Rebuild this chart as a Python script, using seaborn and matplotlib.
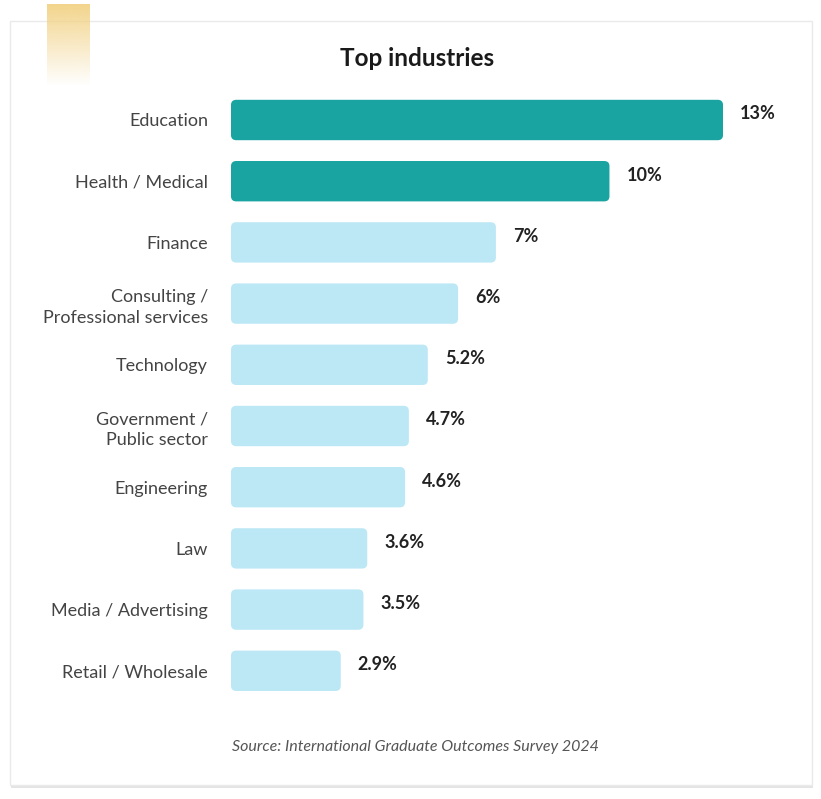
import matplotlib
matplotlib.use("Agg")
import matplotlib.pyplot as plt
import seaborn as sns
import pandas as pd
import numpy as np
from matplotlib.patches import FancyBboxPatch, Rectangle

industries = ["Education", "Health / Medical", "Finance", "Consulting /\nProfessional services",
              "Technology", "Government /\nPublic sector", "Engineering", "Law",
              "Media / Advertising", "Retail / Wholesale"]
shares = [13, 10, 7, 6, 5.2, 4.7, 4.6, 3.6, 3.5, 2.9]
value_labels = ["13%", "10%", "7%", "6%", "5.2%", "4.7%", "4.6%", "3.6%", "3.5%", "2.9%"]
highlight = [True, True, False, False, False, False, False, False, False, False]

TEAL = "#19A3A1"
LIGHT = "#BCE8F6"

sns.set_theme(style="white")
plt.rcParams["font.family"] = ["Lato", "DejaVu Sans"]

df = pd.DataFrame({"industry": industries, "share": shares})
colors = [TEAL if h else LIGHT for h in highlight]

W, H = 821, 799
fig = plt.figure(figsize=(W / 100, H / 100), dpi=100)
fig.patch.set_facecolor("white")

# card background with soft shadow
fig.patches.append(Rectangle((11 / W, 1 - 788 / H), 802 / W, 766 / H, transform=fig.transFigure,
                             facecolor="#E4E4E4", edgecolor="none", zorder=-3))
fig.patches.append(Rectangle((10 / W, 1 - 785 / H), 802 / W, 764 / H, transform=fig.transFigure,
                             facecolor="white", edgecolor="#EAEAEA", linewidth=1, zorder=-2))

# yellow gradient tab
gax = fig.add_axes([47 / W, 1 - 86 / H, 42 / W, 82 / H])
grad = np.ones((100, 2, 4))
grad[..., 0] = 0xF2 / 255
grad[..., 1] = 0xD2 / 255
grad[..., 2] = 0x86 / 255
grad[..., 3] = np.linspace(0.95, 0.0, 100)[:, None]
gax.imshow(grad, aspect="auto", extent=(0, 1, 0, 1))
gax.axis("off")

row = 61.2
ax = fig.add_axes([231 / W, 1 - (120 + 9 * row + row / 2) / H, 492 / W, 10 * row / H])
ax.patch.set_alpha(0)
sns.barplot(data=df, x="share", y="industry", hue="industry", palette=colors, legend=False,
            width=0.66, saturation=1, ax=ax, orient="h")
ax.set_xlim(0, 13)
ax.set_ylim(9.5, -0.5)

# swap plain rectangles for rounded ones
for p in list(ax.patches):
    x, y, w, h = p.get_x(), p.get_y(), p.get_width(), p.get_height()
    fc = p.get_facecolor()
    p.remove()
    ax.add_patch(FancyBboxPatch((x, y), w, h, boxstyle="round,pad=0,rounding_size=0.14",
                                mutation_aspect=0.6, facecolor=fc, edgecolor="none"))

for i, (v, lab) in enumerate(zip(shares, value_labels)):
    ax.text(v + 0.45, i - 0.1, lab, ha="left", va="center", fontsize=13, fontweight="bold",
            color="#222222", clip_on=False)

ax.set_xlabel("")
ax.set_ylabel("")
ax.set_xticks([])
ax.tick_params(axis="y", length=0, pad=16.5, labelsize=13, labelcolor="#444444")
for lbl in ax.get_yticklabels():
    lbl.set_ha("right")
    lbl.set_multialignment("right")
    lbl.set_linespacing(1.35)
sns.despine(ax=ax, left=True, bottom=True)

fig.text(417 / W, 1 - 58 / H, "Top industries", ha="center", va="center", fontsize=17.5,
         fontweight="bold", color="#1A1A1A")
fig.text(415 / W, 1 - 747 / H, "Source: International Graduate Outcomes Survey 2024", ha="center",
         va="center", fontsize=11.5, style="italic", color="#555555")

fig.savefig("out.png", dpi=100)
